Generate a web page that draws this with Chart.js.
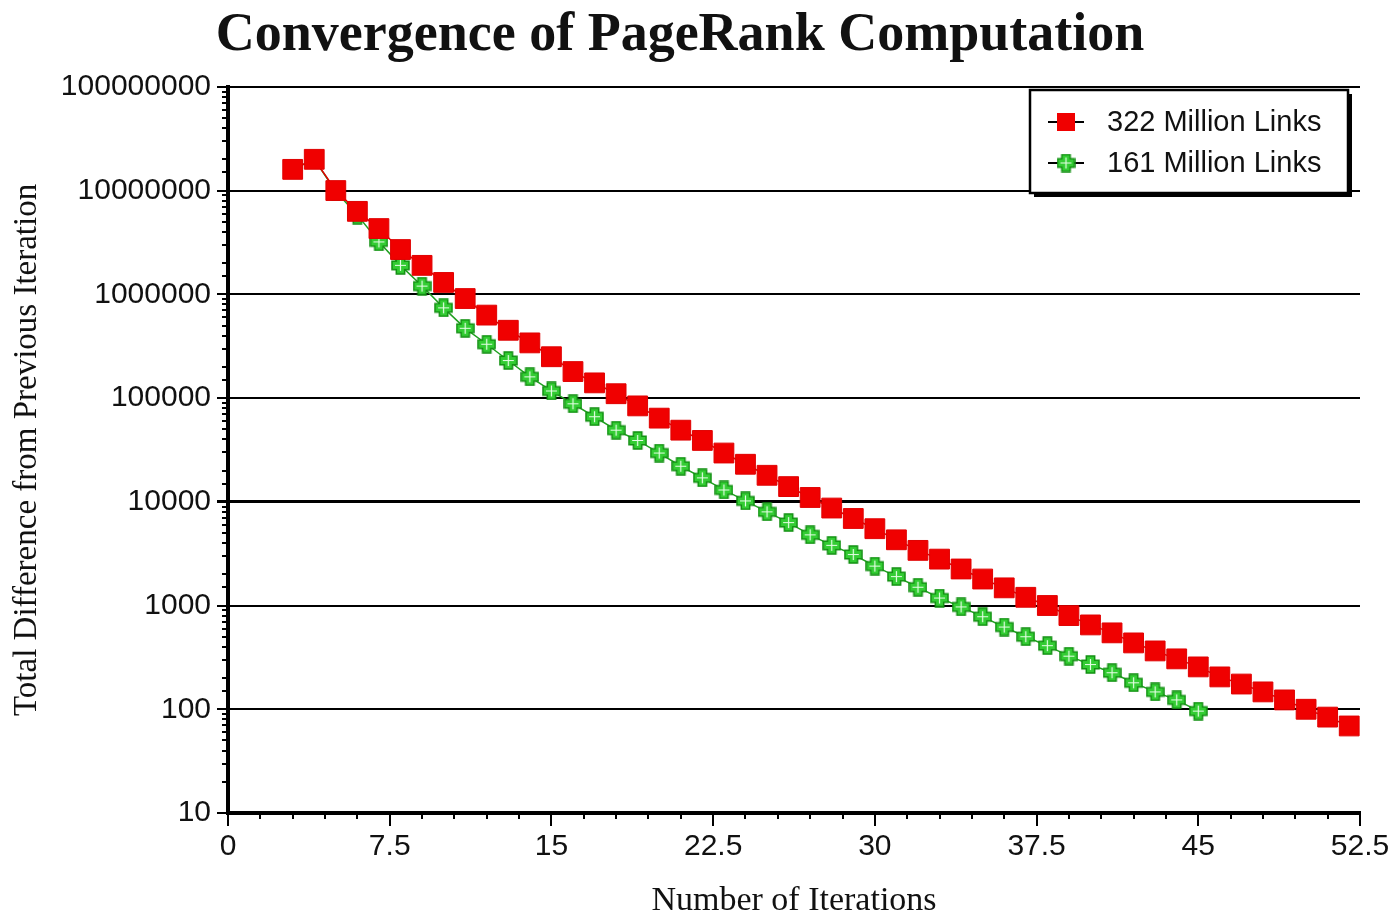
<!DOCTYPE html>
<html>
<head>
<meta charset="utf-8">
<script src="https://cdn.jsdelivr.net/npm/chart.js@4.4.0/dist/chart.umd.min.js"></script>
<style>
  html, body { margin: 0; padding: 0; background: #fff; }
  #wrap { width: 1394px; height: 920px; }
</style>
</head>
<body>
<div id="wrap"><canvas id="chart" width="1394" height="920"></canvas></div>
<script>
// iterations and differences
const iterRed = [3,4,5,6,7,8,9,10,11,12,13,14,15,16,17,18,19,20,21,22,23,24,25,26,27,28,29,30,31,32,33,34,35,36,37,38,39,40,41,42,43,44,45,46,47,48,49,50,51,52];
const diffRed = [1.6e7,2.0e7,1.0e7,6.3e6,4.3e6,2.7e6,1.9e6,1.3e6,9.1e5,6.3e5,4.5e5,3.4e5,2.5e5,1.8e5,1.4e5,1.1e5,8.4e4,6.4e4,4.9e4,3.9e4,2.95e4,2.3e4,1.8e4,1.4e4,1.1e4,8700,6900,5500,4300,3400,2800,2250,1800,1480,1200,1000,800,650,545,436,365,306,256,205,175,147,123,100,84,69];
const iterGreen = [3,4,5,6,7,8,9,10,11,12,13,14,15,16,17,18,19,20,21,22,23,24,25,26,27,28,29,30,31,32,33,34,35,36,37,38,39,40,41,42,43,44,45];
const diffGreen = [1.6e7,2.0e7,9.8e6,5.8e6,3.2e6,1.9e6,1.2e6,7.4e5,4.7e5,3.3e5,2.3e5,1.6e5,1.17e5,8.8e4,6.6e4,4.9e4,3.9e4,2.95e4,2.2e4,1.7e4,1.3e4,1.02e4,8000,6300,4800,3800,3100,2400,1900,1500,1180,970,780,620,500,410,325,270,225,180,147,123,96];
const seriesLabels = ["322 Million Links", "161 Million Links"];
const xTicks = [0, 7.5, 15, 22.5, 30, 37.5, 45, 52.5];

// green "plus" marker with light inner cross
function makePlus(size) {
  const c = document.createElement("canvas");
  c.width = size; c.height = size;
  const g = c.getContext("2d");
  const a = size * 0.22, m = size / 2, e = 1, f = size - 1;
  g.beginPath();
  g.moveTo(m - a, e); g.lineTo(m + a, e); g.lineTo(m + a, m - a); g.lineTo(f, m - a);
  g.lineTo(f, m + a); g.lineTo(m + a, m + a); g.lineTo(m + a, f); g.lineTo(m - a, f);
  g.lineTo(m - a, m + a); g.lineTo(e, m + a); g.lineTo(e, m - a); g.lineTo(m - a, m - a); g.closePath();
  g.fillStyle = "#33cc33";
  g.fill();
  g.strokeStyle = "#129012";
  g.lineWidth = 1.5;
  g.stroke();
  g.strokeStyle = "#e6ffe6";
  g.lineWidth = 1.2;
  g.beginPath();
  g.moveTo(m, 4); g.lineTo(m, size - 4);
  g.moveTo(4, m); g.lineTo(size - 4, m);
  g.stroke();
  return c;
}
const plusMarker = makePlus(19);

const isPow10 = (v) => Math.abs(Math.log10(v) - Math.round(Math.log10(v))) < 1e-9;

// short minor ticks on both axes
const minorTicks = {
  id: "minorTicks",
  afterDraw(chart) {
    const { ctx, scales: { x, y } } = chart;
    ctx.save();
    ctx.strokeStyle = "#000";
    ctx.lineWidth = 2;
    y.ticks.forEach((t) => {
      if (isPow10(t.value)) return;
      const py = Math.round(y.getPixelForValue(t.value));
      ctx.beginPath();
      ctx.moveTo(y.right - 6, py);
      ctx.lineTo(y.right, py);
      ctx.stroke();
    });
    for (let v = 0; v <= x.max + 1e-9; v += 1.5) {
      const px = Math.round(x.getPixelForValue(v));
      ctx.beginPath();
      ctx.moveTo(px, x.top);
      ctx.lineTo(px, x.top + 6);
      ctx.stroke();
    }
    ctx.restore();
  },
};

// boxed legend in the top right corner
const boxLegend = {
  id: "boxLegend",
  afterDraw(chart) {
    const { ctx } = chart;
    const left = 1030, top = 90, w = 318, h = 103;
    ctx.save();
    ctx.fillStyle = "#000";
    ctx.fillRect(left + 4, top + 4, w, h);
    ctx.fillStyle = "#fff";
    ctx.fillRect(left, top, w, h);
    ctx.strokeStyle = "#000";
    ctx.lineWidth = 2.5;
    ctx.strokeRect(left, top, w, h);
    ctx.font = "29px 'Liberation Sans', Arial, sans-serif";
    ctx.textBaseline = "middle";
    chart.data.datasets.forEach((ds, i) => {
      const cy = top + 32 + i * 41;
      const cx = left + 36;
      ctx.strokeStyle = "#000";
      ctx.lineWidth = 2;
      ctx.beginPath();
      ctx.moveTo(cx - 18, cy);
      ctx.lineTo(cx + 18, cy);
      ctx.stroke();
      if (ds.pointStyle === "rect") {
        ctx.fillStyle = ds.pointBackgroundColor;
        ctx.fillRect(cx - 9, cy - 9, 18, 18);
      } else {
        ctx.drawImage(plusMarker, cx - 9.5, cy - 9.5);
      }
      ctx.fillStyle = "#111";
      ctx.fillText(ds.label, left + 77, cy + 1);
    });
    ctx.restore();
  },
};

const ctx = document.getElementById("chart").getContext("2d");
new Chart(ctx, {
  type: "line",
  data: {
    datasets: [
      {
        label: seriesLabels[0],
        data: iterRed.map((x, i) => ({ x, y: diffRed[i] })),
        borderColor: "#e00000",
        borderWidth: 1.5,
        pointStyle: "rect",
        pointRadius: 14,
        pointBackgroundColor: "#f00000",
        pointBorderColor: "#e00000",
        pointBorderWidth: 1,
      },
      {
        label: seriesLabels[1],
        data: iterGreen.map((x, i) => ({ x, y: diffGreen[i] })),
        borderColor: "#22a022",
        borderWidth: 1.5,
        pointStyle: plusMarker,
        pointRadius: 9,
      },
    ],
  },
  options: {
    responsive: false,
    animation: false,
    layout: { padding: { top: 0, right: 34, bottom: 0, left: 0 } },
    plugins: {
      legend: { display: false },
      tooltip: { enabled: false },
      title: {
        display: true,
        text: "Convergence of PageRank Computation",
        color: "#111",
        font: { family: "'Liberation Serif', 'Times New Roman', serif", size: 54, weight: "bold" },
        padding: { top: 4, bottom: 18 },
      },
    },
    scales: {
      x: {
        type: "linear",
        min: 0,
        max: 52.5,
        afterBuildTicks: (s) => { s.ticks = xTicks.map((v) => ({ value: v })); },
        afterFit: (s) => { s.height = 107; },
        border: { display: true, color: "#000", width: 4 },
        grid: { drawOnChartArea: false, color: "#000", lineWidth: 2, tickLength: 13 },
        ticks: {
          color: "#111",
          padding: 3,
          maxRotation: 0,
          font: { family: "'Liberation Sans', Arial, sans-serif", size: 30 },
          callback: (v) => String(v),
        },
        title: {
          display: true,
          text: "Number of Iterations",
          color: "#111",
          font: { family: "'Liberation Serif', 'Times New Roman', serif", size: 34, lineHeight: 1.1 },
          padding: { top: 0, bottom: 0 },
        },
      },
      y: {
        type: "logarithmic",
        min: 10,
        max: 1e8,
        afterFit: (s) => { s.width = 228; },
        border: { display: true, color: "#000", width: 4 },
        grid: {
          color: (c) => (c.tick && isPow10(c.tick.value) ? "#000" : "rgba(0,0,0,0)"),
          lineWidth: (c) => (c.tick && c.tick.value === 1e4 ? 3 : 2),
          tickColor: (c) => (c.tick && isPow10(c.tick.value) ? "#000" : "rgba(0,0,0,0)"),
          tickLength: 11,
        },
        ticks: {
          color: "#111",
          padding: 6,
          autoSkip: false,
          font: { family: "'Liberation Sans', Arial, sans-serif", size: 30 },
          callback: (v) => (isPow10(v) ? String(Math.round(v)) : ""),
        },
        title: {
          display: true,
          text: "Total Difference from Previous Iteration",
          color: "#111",
          font: { family: "'Liberation Serif', 'Times New Roman', serif", size: 33, lineHeight: 1.1 },
          padding: { top: 9, bottom: 0 },
        },
      },
    },
  },
  plugins: [minorTicks, boxLegend],
});
</script>
</body>
</html>
